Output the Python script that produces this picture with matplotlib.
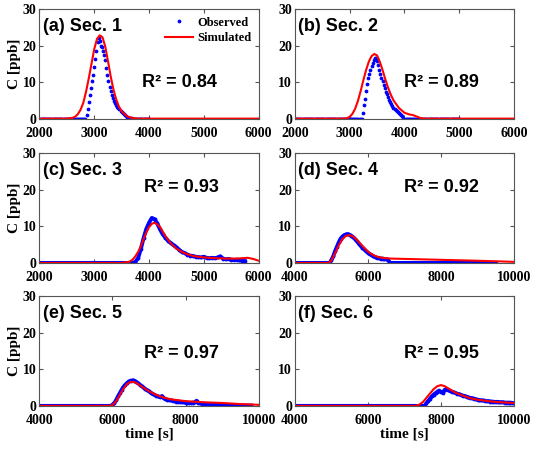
import numpy as np
import matplotlib
matplotlib.use('Agg')
import matplotlib.pyplot as plt

# ---- data ----
panel_labels = ['(a) Sec. 1', '(b) Sec. 2', '(c) Sec. 3', '(d) Sec. 4', '(e) Sec. 5', '(f) Sec. 6']
r2_values = [0.84, 0.89, 0.93, 0.92, 0.97, 0.95]

# observed: regular sampling grid, concentration in ppb
obs_a_t = np.arange(2000, 4001, 20)
obs_a_c = [0.0] * 43 + [
    1.0, 2.5, 4.5, 6.6, 8.5, 10.3, 12.0, 14.0, 16.3, 18.5,
    21.0, 22.0, 21.3, 20.0, 19.5, 18.5, 17.3, 16.0, 13.8, 12.0,
    10.2, 8.7, 7.5, 6.5, 5.6, 4.9, 4.3, 3.8, 3.3, 2.9,
    2.5, 2.1, 1.8, 1.5, 1.2, 1.0, 0.7, 0.5, 0.3, 0.2,
    0.1, 0.05] + [0.0] * 16

obs_b_t = np.arange(2000, 5001, 20)
obs_b_c = [0.0] * 62 + [
    1.5, 3.8, 5.5, 7.5, 9.5, 11.0, 12.2, 13.3, 14.3, 15.2,
    16.0, 16.6, 16.5, 15.8, 14.6, 13.4, 12.3, 11.2, 10.2, 9.2,
    8.3, 7.4, 6.7, 5.9, 5.2, 4.5, 3.9, 3.4, 3.0, 2.6,
    2.3, 2.0, 1.7, 1.4, 1.2, 0.9, 0.6, 0.3] + [0.0] * 51

obs_c_t = np.arange(2000, 5751, 50)
obs_c_c = [0.0] * 35 + [
    0.3, 1.3, 3.8, 6.8, 9.3, 11.0, 12.3, 12.0, 10.8, 9.2,
    7.8, 6.9, 6.0, 5.4, 4.8, 4.3, 3.6, 3.0, 2.7, 2.3,
    2.0, 1.9, 1.7, 1.6, 1.5, 1.7, 1.4, 1.3, 1.4, 1.3,
    1.5, 1.8, 1.2, 1.0, 1.1, 0.9, 0.8, 0.9, 0.7, 0.6,
    0.5]

obs_d_t = np.arange(4000, 9501, 50)
obs_d_c = [0.0] * 20 + [
    0.8, 1.8, 3.2, 4.4, 5.6, 6.6, 7.2, 7.6, 7.8, 7.9,
    7.7, 7.4, 7.0, 6.5, 5.9, 5.3, 4.7, 4.2, 3.7, 3.2,
    2.8, 2.4, 2.1, 1.8, 1.6, 1.4, 1.3, 1.2, 1.2, 1.1,
    1.0, 0.9] + [0.0] * 59

obs_e_t = np.arange(4000, 9801, 50)
obs_e_c = [0.0] * 40 + [
    0.3, 0.8, 1.6, 2.6, 3.5, 4.4, 5.2, 5.8, 6.3, 6.7,
    6.9, 7.0, 6.9, 6.6, 6.2, 5.8, 5.4, 5.0, 4.6, 4.3,
    4.0, 3.6, 3.3, 3.0, 2.8, 2.6, 2.4, 2.7, 2.1, 1.9,
    1.7, 1.6, 1.5, 1.4, 1.3, 1.2, 1.2, 1.1, 1.0, 1.0,
    0.9, 0.9, 0.8, 0.8, 0.9, 1.0, 1.4, 0.8, 0.7, 0.6,
    0.6, 0.5, 0.5, 0.4, 0.4, 0.4, 0.3, 0.3, 0.3, 0.3,
    0.2, 0.2, 0.2, 0.2, 0.2, 0.2, 0.1, 0.1, 0.1, 0.1,
    0.1, 0.1, 0.1, 0.1, 0.1, 0.1, 0.1]

obs_f_t = np.arange(4000, 10001, 50)
obs_f_c = [0.0] * 72 + [
    0.7, 1.4, 2.0, 2.6, 3.1, 3.5, 3.9, 4.2, 3.8, 3.6,
    4.4, 4.6, 4.3, 4.1, 3.9, 3.7, 3.5, 3.3, 3.2, 3.0,
    2.8, 2.7, 2.5, 2.3, 2.2, 2.1, 2.0, 1.8, 1.7, 1.6,
    1.5, 1.5, 1.4, 1.3, 1.3, 1.2, 1.2, 1.1, 1.1, 1.1,
    1.0, 1.0, 1.0, 0.9, 0.9, 0.9, 0.9, 0.8, 0.8]

# simulated
sim_a_t = [2000, 2500, 2600, 2650, 2700, 2750, 2800, 2850, 2900, 2950, 3000, 3050, 3100,
           3150, 3200, 3250, 3300, 3350, 3400, 3450, 3500, 3600, 3700, 3800, 6000]
sim_a_c = [0, 0, 0.2, 0.5, 1.2, 2.4, 4.3, 7.3, 11.0, 15.0, 19.0, 21.8, 22.8,
           22.3, 19.8, 15.8, 11.6, 8.0, 5.3, 3.3, 2.0, 0.6, 0.15, 0, 0]

sim_b_t = [2000, 2900, 2950, 3000, 3050, 3100, 3150, 3200, 3250, 3300, 3350, 3400, 3450, 3500,
           3550, 3600, 3650, 3700, 3750, 3800, 3900, 4000, 4100, 4150, 4200, 4250, 4300, 4350, 6000]
sim_b_c = [0, 0, 0.1, 0.5, 1.3, 2.7, 4.8, 7.5, 10.5, 13.3, 15.6, 17.1, 17.7, 17.3,
           15.6, 13.3, 10.8, 8.5, 6.6, 5.0, 2.9, 1.6, 1.1, 1.0, 0.7, 0.4, 0.1, 0, 0]

sim_c_t = [2000, 3500, 3600, 3650, 3700, 3750, 3800, 3850, 3900, 3950, 4000, 4050, 4100, 4150, 4200,
           4250, 4300, 4400, 4500, 4600, 4700, 4800, 5000, 5200, 5400, 5600, 5700, 5800, 5900, 6000]
sim_c_c = [0.0, 0.0, 0.2, 0.4, 0.9, 1.8, 3.0, 4.6, 6.5, 8.3, 9.8, 10.7, 11.0, 10.6, 9.8,
           8.6, 7.3, 5.3, 3.9, 3.0, 2.4, 1.9, 1.5, 1.3, 1.2, 1.2, 1.3, 1.4, 1.1, 0.6]

sim_d_t = [4000, 4900, 4950, 5000, 5100, 5200, 5300, 5400, 5500, 5600, 5700, 5800,
           5900, 6000, 6100, 6200, 6300, 6400, 6600, 7000, 8000, 9000, 10000]
sim_d_c = [0, 0, 0.2, 0.7, 2.6, 4.8, 6.5, 7.4, 7.6, 7.2, 6.3, 5.2,
           4.1, 3.1, 2.4, 1.9, 1.6, 1.4, 1.2, 1.1, 0.85, 0.6, 0.3]

sim_e_t = [4000, 5900, 6000, 6100, 6200, 6300, 6400, 6500, 6600, 6700,
           6800, 7000, 7200, 7400, 7600, 8000, 8500, 9000, 9500, 10000]
sim_e_c = [0, 0, 0.2, 1.3, 3.0, 4.7, 6.0, 6.6, 6.5, 6.0,
           5.3, 4.0, 3.0, 2.3, 1.8, 1.3, 1.0, 0.8, 0.5, 0.3]

sim_f_t = [4000, 7300, 7400, 7500, 7600, 7700, 7800, 7900, 8000, 8100,
           8200, 8300, 8400, 8600, 8800, 9000, 9300, 9600, 10000]
sim_f_c = [0, 0, 0.3, 1.0, 2.2, 3.4, 4.6, 5.4, 5.7, 5.4,
           4.8, 4.2, 3.6, 2.8, 2.1, 1.7, 1.3, 1.0, 0.8]

observed = [(obs_a_t, obs_a_c), (obs_b_t, obs_b_c), (obs_c_t, obs_c_c),
            (obs_d_t, obs_d_c), (obs_e_t, obs_e_c), (obs_f_t, obs_f_c)]
simulated = [(sim_a_t, sim_a_c), (sim_b_t, sim_b_c), (sim_c_t, sim_c_c),
             (sim_d_t, sim_d_c), (sim_e_t, sim_e_c), (sim_f_t, sim_f_c)]
xlims = [(2000, 6000), (2000, 6000), (2000, 6000), (4000, 10000), (4000, 10000), (4000, 10000)]
r2_pos = [(0.64, 0.33), (0.667, 0.33), (0.65, 0.69), (0.668, 0.69), (0.65, 0.48), (0.668, 0.48)]

serif = 'Liberation Serif'
sans = 'Liberation Sans'

fig = plt.figure(figsize=(5.4, 4.51), dpi=100)
lefts = [0.073, 0.546]
bottoms = [0.737, 0.417, 0.100]
w, h = 0.406, 0.243

for i in range(6):
    row, col = divmod(i, 2)
    ax = fig.add_axes([lefts[col], bottoms[row], w, h])
    ot, oc = observed[i]
    st, sc = simulated[i]
    if i < 2:
        ax.plot(ot, oc, '.', color='#0000ff', ms=3.4, label='Observed')
    else:
        ax.plot(ot, oc, '-', color='#0000ff', lw=2.8, marker='.', ms=3.5)
    ax.plot(st, sc, '-', color='#ff0000', lw=1.5, label='Simulated')

    ax.set_xlim(*xlims[i])
    ax.set_ylim(0, 30)
    ax.set_yticks([0, 10, 20, 30])
    if i < 3:
        ax.set_xticks([2000, 3000, 4000, 5000, 6000])
    else:
        ax.set_xticks([4000, 6000, 8000, 10000])
    ax.tick_params(direction='in', top=True, right=True, length=3, width=0.8,
                   color='#555555', labelsize=10)
    ax.tick_params(axis='x', pad=6)
    ax.tick_params(axis='y', pad=2)
    for lab in ax.get_xticklabels() + ax.get_yticklabels():
        lab.set_fontfamily(serif)
        lab.set_fontweight('bold')
    for sp in ax.spines.values():
        sp.set_color('#555555')
        sp.set_linewidth(0.8)

    ax.text(0.015, 0.845, panel_labels[i], transform=ax.transAxes, fontsize=13,
            fontweight='bold', family=sans, va='center', ha='left')
    ax.text(r2_pos[i][0], r2_pos[i][1], 'R\u00b2 = %.2f' % r2_values[i],
            transform=ax.transAxes, fontsize=13, fontweight='bold', family=sans,
            va='center', ha='center')

    if col == 0:
        ax.set_ylabel('C [ppb]', fontsize=11, fontweight='bold', family=serif, labelpad=1)
    if row == 2:
        ax.set_xlabel('time [s]', fontsize=11, fontweight='bold', family=serif, labelpad=0)
    if i == 0:
        ax.legend(loc='upper right', bbox_to_anchor=(1.0, 1.0), frameon=False,
                  prop={'family': serif, 'weight': 'bold', 'size': 9},
                  handlelength=2.3, handletextpad=0.3, labelspacing=0.3, borderaxespad=0.2)

plt.savefig('out.png', dpi=100)
